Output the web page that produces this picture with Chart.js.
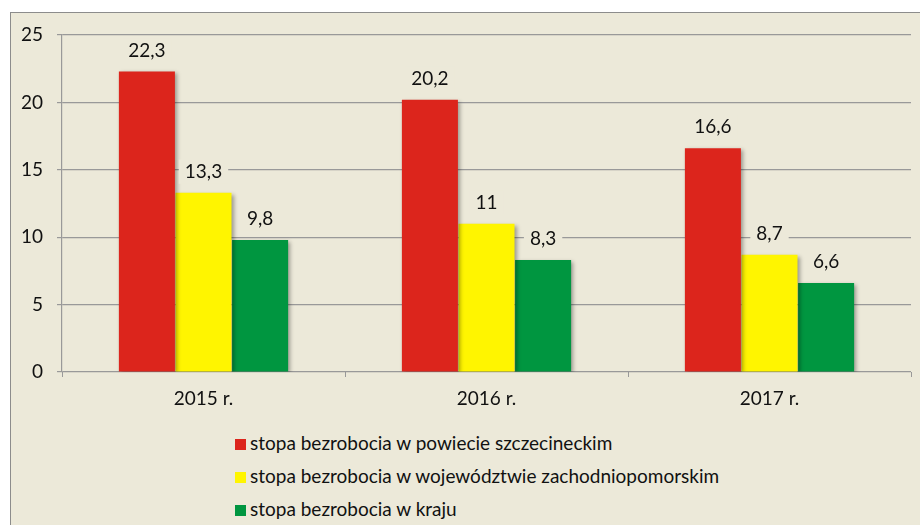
<!DOCTYPE html>
<html>
<head>
<meta charset="utf-8">
<script src="https://cdn.jsdelivr.net/npm/chart.js@4/dist/chart.umd.min.js"></script>
<style>
  body { margin: 0; background: #fff; width: 920px; height: 525px; overflow: hidden; position: relative; font-family: Lato, "Noto Sans", sans-serif; }
  #frame { position: absolute; left: 10px; top: 12px; width: 940px; height: 540px; background: #ECE9D9; border: 1px solid #8c8c8c; }
  #wrap { position: absolute; left: 0; top: 0; width: 920px; height: 420px; }
  #legend { position: absolute; left: 235px; top: 426px; margin: 0; padding: 0; list-style: none; font-size: 19px; color: #111; }
  #legend li { height: 33px; line-height: 33px; white-space: nowrap; }
  #legend span { display: inline-block; width: 11px; height: 11px; margin-right: 4px; vertical-align: 0px; }
</style>
</head>
<body>
<div id="frame"></div>
<div id="wrap"><canvas id="bars"></canvas></div>
<ul id="legend"></ul>
<script>
// dane: stopa bezrobocia (%)
const years = ['2015 r.', '2016 r.', '2017 r.']
const seriesNames = [
  'stopa bezrobocia w powiecie szczecineckim',
  'stopa bezrobocia w województwie zachodniopomorskim',
  'stopa bezrobocia w kraju',
]
const powiat = [22.3, 20.2, 16.6]
const wojewodztwo = [13.3, 11, 8.7]
const kraj = [9.8, 8.3, 6.6]
const yTicks = [0, 5, 10, 15, 20, 25]
const colors = ['#DC251C', '#FFF500', '#009640']

const bg = '#ECE9D9'
const fontFamily = 'Lato, "Noto Sans", sans-serif'

// cien pod slupkami jak w Excelu
const shadowPlugin = {
  id: 'barShadow',
  beforeDatasetDraw(chart) {
    const ctx = chart.ctx
    ctx.save()
    ctx.shadowColor = 'rgba(0,0,0,0.35)'
    ctx.shadowBlur = 4
    ctx.shadowOffsetX = 2
    ctx.shadowOffsetY = 2
  },
  afterDatasetDraw(chart) {
    chart.ctx.restore()
  },
}

// etykiety wartosci nad slupkami
const valueLabels = {
  id: 'valueLabels',
  afterDatasetsDraw(chart) {
    const ctx = chart.ctx
    ctx.save()
    ctx.font = '19px ' + fontFamily
    ctx.textAlign = 'center'
    ctx.textBaseline = 'middle'
    chart.data.datasets.forEach((ds, i) => {
      chart.getDatasetMeta(i).data.forEach((bar, j) => {
        const txt = String(ds.data[j]).replace('.', ',')
        const y = bar.y - 21
        const w = ctx.measureText(txt).width + 12
        ctx.fillStyle = bg
        ctx.fillRect(bar.x - w / 2, y - 12, w, 24)
        ctx.fillStyle = '#111'
        ctx.fillText(txt, bar.x, y)
      })
    })
    ctx.restore()
  },
}

const ctx = document.getElementById('bars')
const chart = new Chart(ctx, {
  type: 'bar',
  data: {
    labels: years,
    datasets: [powiat, wojewodztwo, kraj].map((d, i) => ({
      label: seriesNames[i],
      data: d,
      backgroundColor: colors[i],
      borderWidth: 0,
    })),
  },
  options: {
    responsive: true,
    maintainAspectRatio: false,
    animation: false,
    categoryPercentage: 0.6,
    barPercentage: 0.99,
    layout: { padding: { left: 0, right: 9, top: 35, bottom: 8 } },
    plugins: { legend: { display: false }, tooltip: { enabled: false } },
    scales: {
      x: {
        afterFit: s => { s.height = 40 },
        grid: { drawOnChartArea: false, drawTicks: true, tickLength: 5, color: '#999', offset: true },
        border: { display: false },
        ticks: { color: '#111', font: { family: fontFamily, size: 19 }, padding: 10 },
      },
      y: {
        min: 0,
        max: 25,
        afterFit: s => { s.width = 62 },
        afterBuildTicks: axis => { axis.ticks = yTicks.map(v => ({ value: v })) },
        grid: { color: '#999', tickLength: 5, lineWidth: 1.2 },
        border: { color: '#999', width: 1.2 },
        ticks: { color: '#111', font: { family: fontFamily, size: 19 }, padding: 14 },
      },
    },
  },
  plugins: [shadowPlugin, valueLabels],
})

// legenda w kolumnie, jak w oryginale
const legend = document.getElementById('legend')
seriesNames.forEach((name, i) => {
  const li = document.createElement('li')
  li.innerHTML = '<span style="background:' + colors[i] + '"></span>' + name
  legend.appendChild(li)
})
</script>
</body>
</html>
